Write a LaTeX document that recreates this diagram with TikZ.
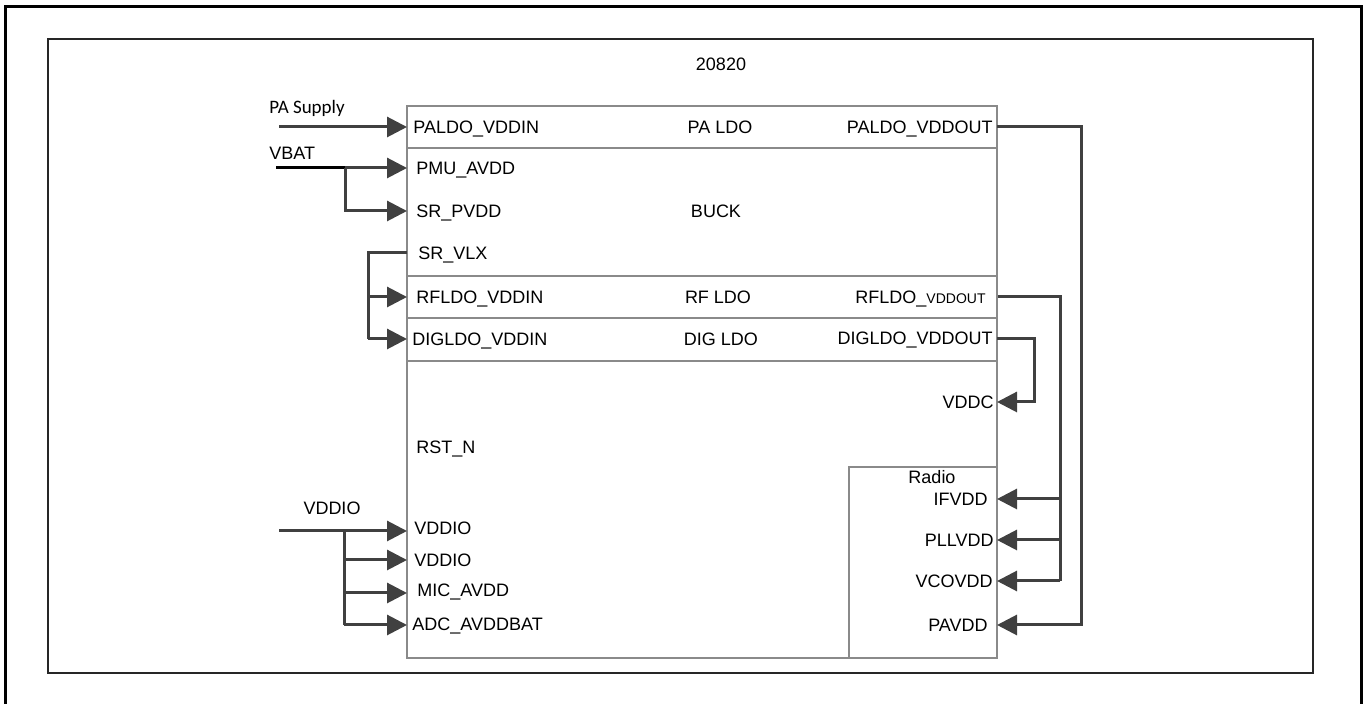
\documentclass[tikz,border=0pt]{standalone}
\usepackage{fontspec}
\setmainfont{Liberation Sans}
\newfontfamily\calibri{Carlito}
\usetikzlibrary{arrows.meta}
\definecolor{wirec}{HTML}{404040}
\definecolor{boxc}{HTML}{8A8A8A}
\begin{document}
\begin{tikzpicture}[x=0.5pt,y=-0.5pt,
  wire/.style={draw=wirec, line width=1.5pt},
  arr/.style={wire, -{Triangle[length=10pt,width=10pt]}},
  boxline/.style={draw=boxc, line width=0.8pt},
  lbl/.style={inner sep=0pt, font=\fontsize{9}{10}\selectfont, text height=6.5pt, text depth=0pt},
  pinl/.style={lbl, anchor=west},
  pinr/.style={lbl, anchor=east},
  blk/.style={lbl, anchor=center}]
\useasboundingbox (0,0) rectangle (1367,704);
\clip (0,0) rectangle (1367,704);
% frames
\draw[line width=1.5pt, black] (5,720) -- (5,6.5) -- (1361,6.5) -- (1361,720);
\draw[line width=1pt, black!85] (47.5,39.5) rectangle (1313,673.5);
% main block
\draw[boxline] (407,106) rectangle (997,658);
\draw[boxline] (407,148) -- (997,148);
\draw[boxline] (407,276) -- (997,276);
\draw[boxline] (407,318) -- (997,318);
\draw[boxline] (407,361) -- (997,361);
\draw[boxline] (849,658) -- (849,467) -- (997,467);
% titles
\node[blk] (chip) at (721,64) {20820};
\node[blk] (paldo) at (720,127) {PA LDO};
\node[blk] (buck) at (716,211) {BUCK};
\node[blk] (rfldo) at (718,297) {RF LDO};
\node[blk] (digldo) at (721,339) {DIG LDO};
\node[blk] (radio) at (932,477) {Radio};
% left pins
\node[pinl] (paldoin) at (413,127) {PALDO\_VDDIN};
\node[pinl] (pmuavdd) at (416,168) {PMU\_AVDD};
\node[pinl] (srpvdd) at (416,211) {SR\_PVDD};
\node[pinl] (srvlx) at (418,253) {SR\_VLX};
\node[pinl] (rfldoin) at (416,297) {RFLDO\_VDDIN};
\node[pinl] (digldoin) at (412,339) {DIGLDO\_VDDIN};
\node[pinl] (rstn) at (416,447) {RST\_N};
\node[pinl] (vddioa) at (414,528) {VDDIO};
\node[pinl] (vddiob) at (414,560) {VDDIO};
\node[pinl] (micavdd) at (417,590) {MIC\_AVDD};
\node[pinl] (adcavdd) at (412,624) {ADC\_AVDDBAT};
% right pins
\node[pinr] (paldoout) at (993,127) {PALDO\_VDDOUT};
\node[pinr] (rfldoout) at (986,297) {RFLDO\_{\fontsize{7}{8}\selectfont VDDOUT}};
\node[pinr] (digldoout) at (993,338) {DIGLDO\_VDDOUT};
\node[pinr] (vddc) at (994,402) {VDDC};
\node[pinr] (ifvdd) at (988,499) {IFVDD};
\node[pinr] (pllvdd) at (994,540) {PLLVDD};
\node[pinr] (vcovdd) at (993,581) {VCOVDD};
\node[pinr] (pavdd) at (988,625) {PAVDD};
% external labels
\node[lbl, anchor=center, font=\calibri\fontsize{9.5}{11}\selectfont] (pasup) at (307,107) {PA Supply};
\node[lbl, anchor=west] (vbat) at (269,153) {VBAT};
\node[lbl, anchor=center] (vddioext) at (332,508) {VDDIO};
% edge coordinates
\coordinate (ePALDOin) at (407,127);
\coordinate (ePMU) at (407,168);
\coordinate (eSRP) at (407,211);
\coordinate (eVLX) at (407,253);
\coordinate (eRFin) at (407,297);
\coordinate (eDIGin) at (407,339);
\coordinate (eIOa) at (407,531);
\coordinate (eIOb) at (407,560);
\coordinate (eMIC) at (407,593);
\coordinate (eADC) at (407,625);
\coordinate (ePAout) at (997,127);
\coordinate (eRFout) at (998,297);
\coordinate (eDIGout) at (997,339);
\coordinate (eVDDC) at (997,402);
\coordinate (eIF) at (997,499);
\coordinate (ePLL) at (997,540);
\coordinate (eVCO) at (997,581);
\coordinate (ePAV) at (997,625);
\coordinate (srcPA) at (279,127);
\coordinate (srcVBAT) at (276,168);
\coordinate (jVBAT) at (345,168);
\coordinate (srcIO) at (279,531);
\coordinate (jIO) at (344,531);
% left wiring
\draw[arr] (srcPA) -- (ePALDOin);
\draw[line width=1.5pt, black] (srcVBAT) -- (jVBAT);
\draw[arr] (jVBAT) -- (ePMU);
\draw[arr] (jVBAT) |- (eSRP);
\draw[wire] (eVLX) -- (368,253) -- (368,339);
\draw[arr] (368,297) -- (eRFin);
\draw[arr] (368,339) -- (eDIGin);
\draw[arr] (srcIO) -- (eIOa);
\draw[wire] (jIO) -- (344,625);
\draw[arr] (344,560) -- (eIOb);
\draw[arr] (344,593) -- (eMIC);
\draw[arr] (344,625) -- (eADC);
% right wiring
\draw[arr] (ePAout) -- (1081,127) -- (1081,625) -- (ePAV);
\draw[arr] (eDIGout) -- (1034,339) -- (1034,402) -- (eVDDC);
\draw[wire] (eRFout) -- (1060,297) -- (1060,581);
\draw[arr] (1060,499) -- (eIF);
\draw[arr] (1060,540) -- (ePLL);
\draw[arr] (1060,581) -- (eVCO);
\end{tikzpicture}
\end{document}
